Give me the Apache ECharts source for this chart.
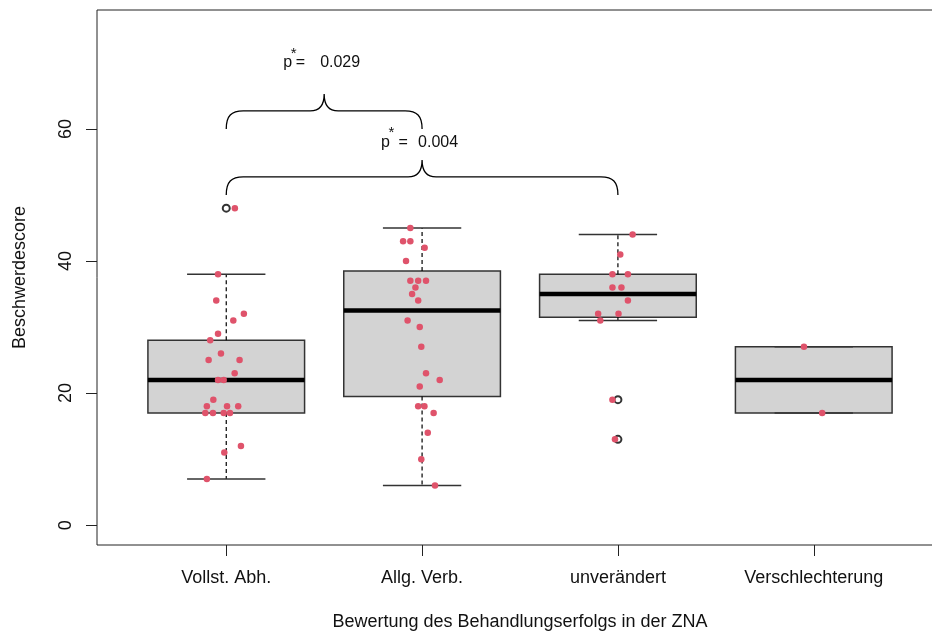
<!DOCTYPE html>
<html>
<head>
<meta charset="utf-8">
<script src="https://cdn.jsdelivr.net/npm/echarts@6/dist/echarts.min.js"></script>
<style>
  html, body { margin: 0; padding: 0; background: #ffffff; overflow: hidden; }
  #chart { width: 960px; height: 637px; }
</style>
</head>
<body>
<div id="chart"></div>
<script>
// Groups on the x axis
const categories = ['Vollst. Abh.', 'Allg. Verb.', 'unverändert', 'Verschlechterung'];

// Box statistics per group
const boxLow    = [7, 6, 31, 17];
const boxQ1     = [17, 19.5, 31.5, 17];
const boxMedian = [22, 32.5, 35, 22];
const boxQ3     = [28, 38.5, 38, 27];
const boxHigh   = [38, 45, 44, 27];

// Points beyond the whiskers
const outlierGroup = [1, 3, 3];
const outlierValue = [48, 19, 13];

// Individual scores and their horizontal jitter (in group units)
const scoresVollst = [48, 38, 34, 32, 31, 29, 28, 26, 25, 25, 23, 22, 22, 19, 18, 18, 18, 17, 17, 17, 17, 12, 11, 7];
const jitterVollst = [0.044, -0.042, -0.051, 0.090, 0.036, -0.042, -0.082, -0.027, -0.090, 0.068, 0.043, -0.042, -0.013, -0.066, -0.099, 0.004, 0.061, -0.107, -0.068, -0.013, 0.019, 0.075, -0.010, -0.099];

const scoresAllg = [45, 43, 43, 42, 40, 37, 37, 37, 36, 35, 34, 31, 30, 27, 23, 22, 21, 18, 18, 17, 14, 10, 6];
const jitterAllg = [-0.060, -0.097, -0.060, 0.013, -0.082, -0.060, -0.020, 0.020, -0.034, -0.051, -0.020, -0.074, -0.012, -0.004, 0.020, 0.090, -0.012, -0.020, 0.012, 0.059, 0.029, -0.004, 0.066];

const scoresUnver = [44, 41, 38, 38, 36, 36, 34, 32, 32, 31, 19, 13];
const jitterUnver = [0.075, 0.012, -0.028, 0.051, -0.028, 0.018, 0.051, -0.101, 0.003, -0.090, -0.028, -0.015];

const scoresVersch = [27, 17];
const jitterVersch = [-0.050, 0.043];

// Axis ticks
const yTicks = [0, 20, 40, 60];
const xTicks = [1, 2, 3, 4];

// Significance brackets between groups
const braceFrom  = [1, 1];
const braceTo    = [2, 3];
const braceLevel = [60, 50];
const pValues    = ['0.029', '0.004'];
const pLevel     = [70, 58];

const FONT = '"Liberation Sans", Arial, Helvetica, sans-serif';
const TEXT = '#111111';
const LINE = '#222222';
const POINT = '#DF536B';

const boxData = categories.map((c, i) => [i + 1, boxLow[i], boxQ1[i], boxMedian[i], boxQ3[i], boxHigh[i]]);

const pointGroups = [
  [scoresVollst, jitterVollst],
  [scoresAllg, jitterAllg],
  [scoresUnver, jitterUnver],
  [scoresVersch, jitterVersch]
];
const pointData = [];
pointGroups.forEach(([vals, jit], gi) => {
  vals.forEach((v, k) => pointData.push([gi + 1 + jit[k], v]));
});

const outlierData = outlierGroup.map((g, i) => [g, outlierValue[i]]);
const braceData = braceFrom.map((f, i) => [f, braceTo[i], braceLevel[i], pLevel[i], i]);

// Box: filled rectangle, dashed whiskers with solid caps, thick median bar
function renderBox(params, api) {
  const g = api.value(0);
  const lo = api.value(1), q1 = api.value(2), md = api.value(3), q3 = api.value(4), hi = api.value(5);
  const xl = api.coord([g - 0.4, q3])[0];
  const xr = api.coord([g + 0.4, q3])[0];
  const xc = api.coord([g, q3])[0];
  const cl = api.coord([g - 0.2, lo])[0];
  const cr = api.coord([g + 0.2, lo])[0];
  const yLo = api.coord([g, lo])[1];
  const yQ1 = api.coord([g, q1])[1];
  const yMd = api.coord([g, md])[1];
  const yQ3 = api.coord([g, q3])[1];
  const yHi = api.coord([g, hi])[1];
  const dashed = { stroke: '#000', lineWidth: 1.2, lineDash: [4, 3] };
  const solid = { stroke: '#333333', lineWidth: 1.5 };
  return {
    type: 'group',
    children: [
      { type: 'rect', shape: { x: xl, y: yQ3, width: xr - xl, height: yQ1 - yQ3 },
        style: { fill: '#D3D3D3', stroke: '#333333', lineWidth: 1.5 } },
      { type: 'line', shape: { x1: xc, y1: yQ3, x2: xc, y2: yHi }, style: dashed },
      { type: 'line', shape: { x1: xc, y1: yQ1, x2: xc, y2: yLo }, style: dashed },
      { type: 'line', shape: { x1: cl, y1: yHi, x2: cr, y2: yHi }, style: solid },
      { type: 'line', shape: { x1: cl, y1: yLo, x2: cr, y2: yLo }, style: solid },
      { type: 'line', shape: { x1: xl, y1: yMd, x2: xr, y2: yMd }, style: { stroke: '#000', lineWidth: 4.5 } }
    ]
  };
}

// Curly bracket between two groups with its p-value label
function renderBrace(params, api) {
  const from = api.value(0), to = api.value(1), level = api.value(2), labelLevel = api.value(3);
  const idx = api.value(4);
  const a = api.coord([from, level])[0];
  const b = api.coord([to, level])[0];
  const e = api.coord([from, level])[1];
  const m = (a + b) / 2;
  const h = e - 18;
  const p = h - 17;
  const d = 'M' + a + ' ' + e +
    ' C' + a + ' ' + (h + 5) + ' ' + (a + 5) + ' ' + h + ' ' + (a + 17) + ' ' + h +
    ' L' + (m - 14) + ' ' + h +
    ' C' + (m - 5) + ' ' + h + ' ' + m + ' ' + (h - 6) + ' ' + m + ' ' + p +
    ' C' + m + ' ' + (h - 6) + ' ' + (m + 5) + ' ' + h + ' ' + (m + 14) + ' ' + h +
    ' L' + (b - 17) + ' ' + h +
    ' C' + (b - 5) + ' ' + h + ' ' + b + ' ' + (h + 5) + ' ' + b + ' ' + e;
  const ty = api.coord([from, labelLevel])[1];
  const xL = m - 2.5 - 38.5;
  const f16 = '16px ' + FONT;
  return {
    type: 'group',
    children: [
      { type: 'path', shape: { pathData: d }, style: { fill: null, stroke: '#000', lineWidth: 1.3 } },
      { type: 'text', style: { text: 'p', x: xL, y: ty, font: f16, fill: TEXT, align: 'left', verticalAlign: 'middle' } },
      { type: 'text', style: { text: '*', x: xL + 7.5, y: ty - 9, font: '15px ' + FONT, fill: TEXT, align: 'left', verticalAlign: 'middle' } },
      { type: 'text', style: { text: '=', x: xL + (idx === 0 ? 12.5 : 17.5), y: ty, font: f16, fill: TEXT, align: 'left', verticalAlign: 'middle' } },
      { type: 'text', style: { text: pValues[idx], x: xL + 77, y: ty, font: f16, fill: TEXT, align: 'right', verticalAlign: 'middle' } }
    ]
  };
}

const chart = echarts.init(document.getElementById('chart'), null, { renderer: 'canvas' });

chart.setOption({
  backgroundColor: '#ffffff',
  animation: false,
  grid: {
    left: 97, top: 10, width: 846, height: 535,
    show: true, borderColor: LINE, borderWidth: 1, backgroundColor: 'transparent'
  },
  xAxis: {
    type: 'value',
    min: 0.34, max: 4.66,
    name: 'Bewertung des Behandlungserfolgs in der ZNA',
    nameLocation: 'middle',
    nameGap: 68,
    nameTextStyle: { fontFamily: FONT, fontSize: 18, color: TEXT },
    axisLine: { show: false, onZero: false },
    splitLine: { show: false },
    axisTick: { show: true, customValues: xTicks, length: 11, lineStyle: { color: LINE, width: 1 } },
    axisLabel: {
      customValues: xTicks,
      formatter: v => categories[Math.round(v) - 1] || '',
      fontFamily: FONT, fontSize: 18, color: TEXT, margin: 24
    }
  },
  yAxis: {
    type: 'value',
    min: -3, max: 78,
    name: 'Beschwerdescore',
    nameLocation: 'middle',
    nameGap: 68,
    nameRotate: 90,
    nameTextStyle: { fontFamily: FONT, fontSize: 18, color: TEXT },
    axisLine: { show: false, onZero: false },
    splitLine: { show: false },
    axisTick: { show: true, customValues: yTicks, length: 11, lineStyle: { color: LINE, width: 1 } },
    axisLabel: {
      customValues: yTicks,
      rotate: 90,
      fontFamily: FONT, fontSize: 18, color: TEXT, margin: 22
    }
  },
  series: [
    {
      type: 'custom',
      name: 'boxes',
      renderItem: renderBox,
      data: boxData,
      encode: { x: 0, y: [1, 2, 3, 4, 5] },
      clip: false,
      z: 2
    },
    {
      type: 'scatter',
      name: 'outliers',
      data: outlierData,
      symbol: 'emptyCircle',
      symbolSize: 7,
      itemStyle: { color: '#000000', borderColor: '#000000', borderWidth: 1.1 },
      z: 3
    },
    {
      type: 'scatter',
      name: 'scores',
      data: pointData,
      symbol: 'circle',
      symbolSize: 6.5,
      itemStyle: { color: POINT, opacity: 1 },
      z: 4
    },
    {
      type: 'custom',
      name: 'brackets',
      renderItem: renderBrace,
      data: braceData,
      encode: { x: [0, 1], y: [2, 3] },
      clip: false,
      z: 5
    }
  ]
});
</script>
</body>
</html>
